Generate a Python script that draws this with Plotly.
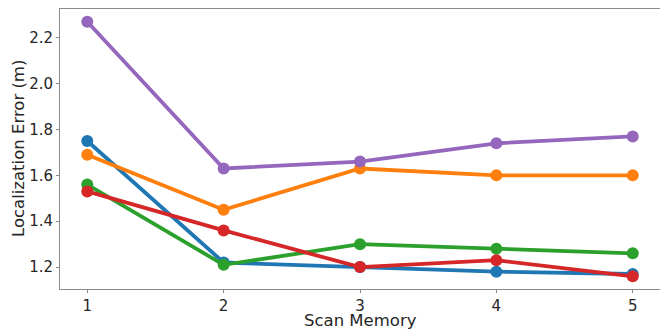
import plotly.graph_objects as go

scan_memory = [1, 2, 3, 4, 5]
blue = [1.75, 1.22, 1.20, 1.18, 1.17]
orange = [1.69, 1.45, 1.63, 1.60, 1.60]
green = [1.56, 1.21, 1.30, 1.28, 1.26]
red = [1.53, 1.36, 1.20, 1.23, 1.16]
purple = [2.27, 1.63, 1.66, 1.74, 1.77]

series = [
    (blue, "#1f77b4"),
    (orange, "#ff7f0e"),
    (green, "#2ca02c"),
    (red, "#d62728"),
    (purple, "#9467bd"),
]

fig = go.Figure()
for vals, col in series:
    fig.add_trace(go.Scatter(
        x=scan_memory, y=vals, mode="lines+markers",
        line=dict(color=col, width=3.8),
        marker=dict(color=col, size=12),
        showlegend=False,
    ))

axis_common = dict(
    showline=True, linecolor="#8c8c8c", linewidth=1,
    showgrid=False, zeroline=False, automargin=False,
    ticks="outside", ticklen=3, tickcolor="#8c8c8c",
    tickfont=dict(family="DejaVu Sans", size=15, color="#262626"),
)

fig.update_layout(
    width=660, height=329,
    margin=dict(l=60, r=0, t=9, b=40),
    plot_bgcolor="white", paper_bgcolor="white",
    font=dict(family="DejaVu Sans", color="#262626"),
    xaxis=dict(range=[0.8, 5.2], tickvals=scan_memory, mirror=True, **axis_common),
    yaxis=dict(range=[1.1045, 2.3255], tickvals=[1.2, 1.4, 1.6, 1.8, 2.0, 2.2],
               tickformat=".1f", mirror=False, **axis_common),
    annotations=[
        dict(text="Scan Memory", xref="paper", yref="paper", x=0.5, y=0,
             xanchor="center", yanchor="middle", yshift=-31, showarrow=False,
             font=dict(family="DejaVu Sans", size=16.5, color="#262626")),
        dict(text="Localization Error (m)", xref="paper", yref="paper", x=0, y=0.5,
             xanchor="center", yanchor="middle", xshift=-42, textangle=-90,
             showarrow=False,
             font=dict(family="DejaVu Sans", size=16.5, color="#262626")),
    ],
)

fig.write_html("out.html", config={"displayModeBar": False},
               post_script="document.body.style.margin='0';document.body.style.padding='0';")
